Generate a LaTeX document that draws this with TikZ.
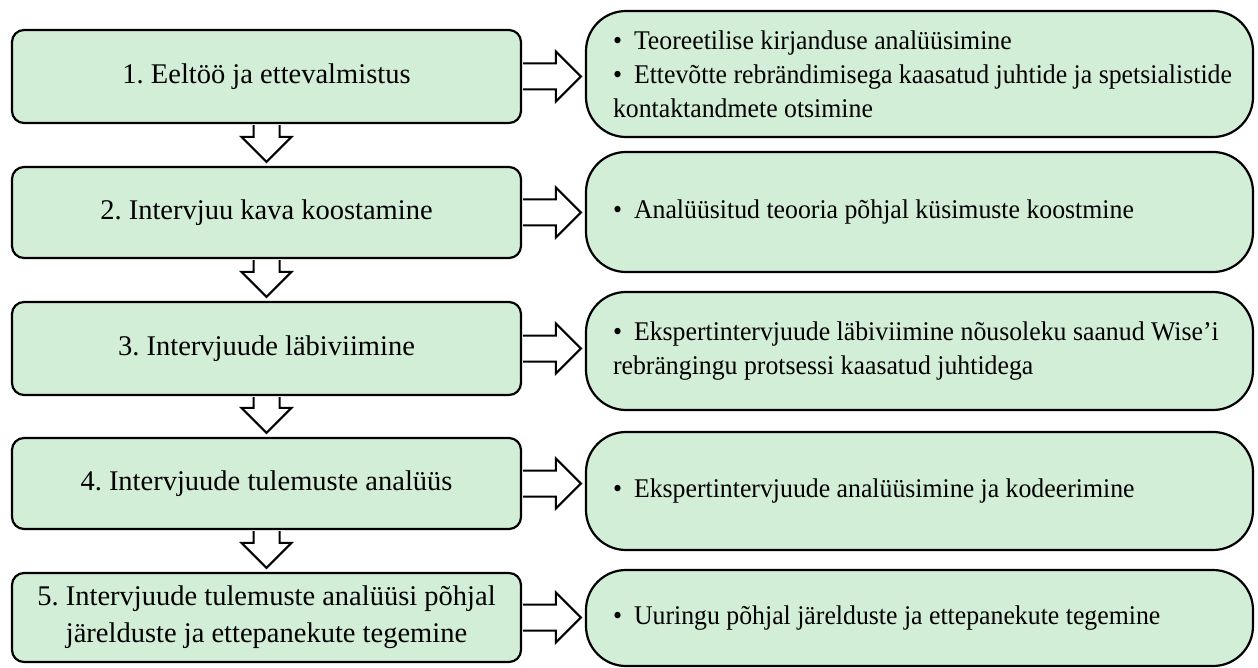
\documentclass[tikz,border=0pt]{standalone}
\usepackage{fontspec}
\setmainfont{Liberation Serif}
\newfontfamily\detailfont[FakeStretch=0.955]{Liberation Serif}
\usetikzlibrary{calc}
\definecolor{boxfill}{RGB}{211,238,214}

% indent of a line in an activity box, and a bulleted item start
\newcommand\contline{\hspace*{14pt}}
\newcommand\itembul{\contline\char"2022\hspace{12pt}}

% hollow block arrow pointing down from the bottom of #1 to the top of #2
\newcommand\downblock[2]{%
  \draw[blockarrow] let \p1=(#1.south), \p2=(#2.north) in
    (\x1-13pt,\y1-1.1pt) -- (\x1-13pt,\y2+29pt) -- (\x1-25pt,\y2+29pt) --
    (\x1,\y2+4pt) -- (\x1+25pt,\y2+29pt) -- (\x1+13pt,\y2+29pt) --
    (\x1+13pt,\y1-1.1pt);}

% hollow block arrow pointing right from #1 to #2
\newcommand\rightblock[2]{%
  \draw[blockarrow] let \p1=(#1.east), \p2=(#2.west) in
    (\x1+1.1pt,\y1+13pt) -- (\x2-29pt,\y1+13pt) -- (\x2-29pt,\y1+25pt) --
    (\x2-4pt,\y1) -- (\x2-29pt,\y1-25pt) -- (\x2-29pt,\y1-13pt) --
    (\x1+1.1pt,\y1-13pt);}

\tikzset{
  stage/.style={draw=black, line width=2.2pt, fill=boxfill, rounded corners=12pt,
    minimum width=509pt, inner sep=0pt, align=center,
    font=\fontsize{28.5}{37}\selectfont\frenchspacing},
  detail/.style={draw=black, line width=2.2pt, fill=boxfill, rounded corners=40pt,
    minimum width=667pt, text width=641pt, inner xsep=12pt, inner ysep=0pt,
    align=flush left, font=\detailfont\fontsize{27}{34}\selectfont\frenchspacing},
  blockarrow/.style={draw=black, line width=2pt, fill=white, line join=miter},
}

\begin{document}
\begin{tikzpicture}[x=1pt, y=-1pt]
\useasboundingbox (0,0) rectangle (1258,668);

% stages of the study
\node[stage, minimum height=93pt] (L1) at (266.5,76.5) {1. Eeltöö ja ettevalmistus};
\node[stage, minimum height=91pt] (L2) at (266.5,212.5) {2. Intervjuu kava koostamine};
\node[stage, minimum height=93pt] (L3) at (266.5,348.5) {3. Intervjuude läbiviimine};
\node[stage, minimum height=91pt] (L4) at (266.5,483.5) {4. Intervjuude tulemuste analüüs};
\node[stage, minimum height=89pt] (L5) at (266.5,617.5) {5. Intervjuude tulemuste analüüsi põhjal\\järelduste ja ettepanekute tegemine};

% activities of each stage
\node[detail, minimum height=126pt] (R1) at (919.5,74) {\itembul Teoreetilise kirjanduse analüüsimine\\\itembul Ettevõtte rebrändimisega kaasatud juhtide ja spetsialistide\\\contline kontaktandmete otsimine};
\node[detail, minimum height=120pt] (R2) at (919.5,212) {\itembul Analüüsitud teooria põhjal küsimuste koostmine};
\node[detail, minimum height=118pt] (R3) at (919.5,351) {\itembul Ekspertintervjuude läbiviimine nõusoleku saanud Wise’i\\\contline rebrängingu protsessi kaasatud juhtidega};
\node[detail, minimum height=118pt] (R4) at (919.5,491) {\itembul Ekspertintervjuude analüüsimine ja kodeerimine};
\node[detail, minimum height=96pt] (R5) at (919.5,618) {\itembul Uuringu põhjal järelduste ja ettepanekute tegemine};

% flow between stages
\downblock{L1}{L2}
\downblock{L2}{L3}
\downblock{L3}{L4}
\downblock{L4}{L5}

% stage to activities
\rightblock{L1}{R1}
\rightblock{L2}{R2}
\rightblock{L3}{R3}
\rightblock{L4}{R4}
\rightblock{L5}{R5}
\end{tikzpicture}
\end{document}
